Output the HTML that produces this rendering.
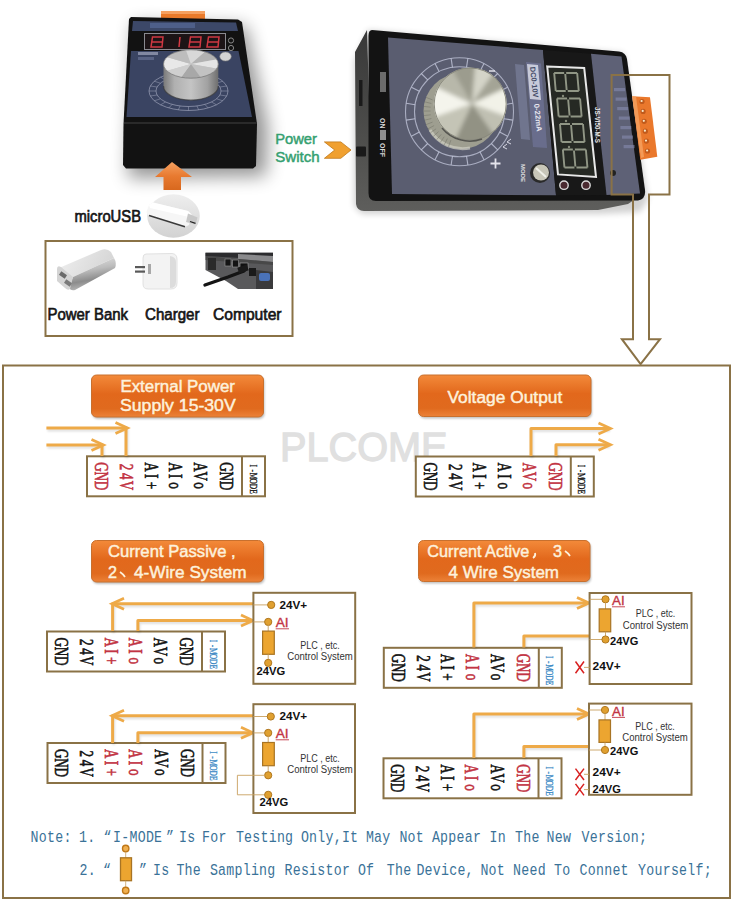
<!DOCTYPE html>
<html><head><meta charset="utf-8"><title>PLCOME signal generator wiring</title>
<style>html,body{margin:0;padding:0;background:#fff;}body{width:732px;height:900px;overflow:hidden;}svg{display:block;}</style>
</head><body>
<svg width="732" height="900" viewBox="0 0 732 900">
<rect width="732" height="900" fill="#fff"/>
<defs>
<linearGradient id="og" x1="0" y1="0" x2="0" y2="1">
 <stop offset="0" stop-color="#f38a3a"/><stop offset="0.45" stop-color="#e2681c"/><stop offset="0.8" stop-color="#e06a1e"/><stop offset="1" stop-color="#ec8238"/>
</linearGradient>
<linearGradient id="arrowg" x1="0" y1="0" x2="0" y2="1">
 <stop offset="0" stop-color="#f5a060"/><stop offset="0.5" stop-color="#e87a30"/><stop offset="1" stop-color="#d8681e"/>
</linearGradient>
<filter id="blur6" x="-50%" y="-50%" width="200%" height="200%"><feGaussianBlur stdDeviation="6"/></filter>
<filter id="blur3" x="-50%" y="-50%" width="200%" height="200%"><feGaussianBlur stdDeviation="3"/></filter>
<filter id="blur2" x="-50%" y="-50%" width="200%" height="200%"><feGaussianBlur stdDeviation="2"/></filter>
<filter id="blur1" x="-50%" y="-50%" width="200%" height="200%"><feGaussianBlur stdDeviation="1"/></filter>
<filter id="blur05" x="-50%" y="-50%" width="200%" height="200%"><feGaussianBlur stdDeviation="0.5"/></filter>
<linearGradient id="knobside" x1="0" y1="0" x2="1" y2="0">
 <stop offset="0" stop-color="#6e6e6e"/><stop offset="0.25" stop-color="#c8c8c8"/><stop offset="0.55" stop-color="#e6e6e6"/><stop offset="0.8" stop-color="#a0a0a0"/><stop offset="1" stop-color="#707070"/>
</linearGradient>
<radialGradient id="knobtop" cx="0.45" cy="0.4" r="0.7">
 <stop offset="0" stop-color="#f0f0f0"/><stop offset="0.6" stop-color="#c8c8c8"/><stop offset="1" stop-color="#9a9a9a"/>
</radialGradient>
<linearGradient id="bigknobtop" x1="0" y1="0" x2="1" y2="1">
 <stop offset="0" stop-color="#9a9a90"/><stop offset="0.3" stop-color="#e8e8e0"/><stop offset="0.5" stop-color="#b8b8b0"/><stop offset="0.7" stop-color="#e0e0d8"/><stop offset="1" stop-color="#8a8a84"/>
</linearGradient>
<linearGradient id="usbg" x1="0" y1="0" x2="0" y2="1">
 <stop offset="0" stop-color="#f2f2f2"/><stop offset="1" stop-color="#d6d6d6"/>
</linearGradient>
<linearGradient id="pbg" x1="0" y1="0" x2="0" y2="1">
 <stop offset="0" stop-color="#f4f4f4"/><stop offset="0.5" stop-color="#c8c8c8"/><stop offset="1" stop-color="#9a9a9a"/>
</linearGradient>
</defs>
<filter id="blur9" x="-50%" y="-50%" width="200%" height="200%"><feGaussianBlur stdDeviation="9"/></filter>
<polygon points="134,24 246,26 268,128 266,176 128,178" fill="#000" opacity="0.42" filter="url(#blur9)"/>
<rect x="161" y="11" width="44" height="9" fill="#ea7a2a"/>
<rect x="161" y="11" width="44" height="3" fill="#f5a060"/>
<polygon points="131,17 238,19.5 242,22 257,124 256,166 253,168.5 126,168.5 123,165 123.5,124 129,19" fill="#121212"/>
<polygon points="124,122 256,122 257,124 124,124" fill="#2a2a2a"/>
<polygon points="133,21 236,22.5 238,31 132,31" fill="#3c4868"/>
<rect x="150" y="23" width="45" height="5" fill="#5a6fa0" opacity="0.6"/>
<rect x="144.5" y="33.5" width="81" height="16" fill="#1c1416" stroke="#8a8a90" stroke-width="1"/>
<path d="M152.5,37 H163 L162,47 H151 Z M152,42 H162.5" stroke="#d83a44" stroke-width="1.5" fill="none" opacity="0.95"/>
<path d="M180,37 L179,47" stroke="#d83a44" stroke-width="1.5" fill="none"/>
<path d="M190.5,37 H201 L200,47 H189 Z M190,42 H200.5" stroke="#d83a44" stroke-width="1.5" fill="none" opacity="0.95"/>
<path d="M208.5,37 H219 L218,47 H207 Z M208,42 H218.5" stroke="#d83a44" stroke-width="1.5" fill="none" opacity="0.95"/>
<circle cx="231" cy="40.5" r="2.6" fill="none" stroke="#888" stroke-width="1"/>
<circle cx="231" cy="48" r="2.6" fill="none" stroke="#888" stroke-width="1"/>
<polygon points="131,51 238.5,51 252,117 126.5,117" fill="#3a4462"/>
<ellipse cx="188.5" cy="91" rx="39.5" ry="19.5" fill="none" stroke="#b8bcd0" stroke-width="0.9" opacity="0.6"/>
<ellipse cx="188.5" cy="91" rx="32.5" ry="15.5" fill="none" stroke="#b8bcd0" stroke-width="0.9" opacity="0.6"/>
<line x1="221.0" y1="91.0" x2="228.0" y2="91.0" stroke="#b8bcd0" stroke-width="0.8" opacity="0.5"/>
<line x1="219.9" y1="95.0" x2="226.7" y2="96.0" stroke="#b8bcd0" stroke-width="0.8" opacity="0.5"/>
<line x1="216.6" y1="98.8" x2="222.7" y2="100.8" stroke="#b8bcd0" stroke-width="0.8" opacity="0.5"/>
<line x1="211.5" y1="102.0" x2="216.4" y2="104.8" stroke="#b8bcd0" stroke-width="0.8" opacity="0.5"/>
<line x1="204.8" y1="104.4" x2="208.2" y2="107.9" stroke="#b8bcd0" stroke-width="0.8" opacity="0.5"/>
<line x1="196.9" y1="106.0" x2="198.7" y2="109.8" stroke="#b8bcd0" stroke-width="0.8" opacity="0.5"/>
<line x1="188.5" y1="106.5" x2="188.5" y2="110.5" stroke="#b8bcd0" stroke-width="0.8" opacity="0.5"/>
<line x1="180.1" y1="106.0" x2="178.3" y2="109.8" stroke="#b8bcd0" stroke-width="0.8" opacity="0.5"/>
<line x1="172.2" y1="104.4" x2="168.8" y2="107.9" stroke="#b8bcd0" stroke-width="0.8" opacity="0.5"/>
<line x1="165.5" y1="102.0" x2="160.6" y2="104.8" stroke="#b8bcd0" stroke-width="0.8" opacity="0.5"/>
<line x1="160.4" y1="98.8" x2="154.3" y2="100.8" stroke="#b8bcd0" stroke-width="0.8" opacity="0.5"/>
<line x1="157.1" y1="95.0" x2="150.3" y2="96.0" stroke="#b8bcd0" stroke-width="0.8" opacity="0.5"/>
<line x1="156.0" y1="91.0" x2="149.0" y2="91.0" stroke="#b8bcd0" stroke-width="0.8" opacity="0.5"/>
<line x1="157.1" y1="87.0" x2="150.3" y2="86.0" stroke="#b8bcd0" stroke-width="0.8" opacity="0.5"/>
<line x1="160.4" y1="83.2" x2="154.3" y2="81.2" stroke="#b8bcd0" stroke-width="0.8" opacity="0.5"/>
<line x1="165.5" y1="80.0" x2="160.6" y2="77.2" stroke="#b8bcd0" stroke-width="0.8" opacity="0.5"/>
<line x1="172.2" y1="77.6" x2="168.7" y2="74.1" stroke="#b8bcd0" stroke-width="0.8" opacity="0.5"/>
<line x1="180.1" y1="76.0" x2="178.3" y2="72.2" stroke="#b8bcd0" stroke-width="0.8" opacity="0.5"/>
<line x1="188.5" y1="75.5" x2="188.5" y2="71.5" stroke="#b8bcd0" stroke-width="0.8" opacity="0.5"/>
<line x1="196.9" y1="76.0" x2="198.7" y2="72.2" stroke="#b8bcd0" stroke-width="0.8" opacity="0.5"/>
<line x1="204.8" y1="77.6" x2="208.2" y2="74.1" stroke="#b8bcd0" stroke-width="0.8" opacity="0.5"/>
<line x1="211.5" y1="80.0" x2="216.4" y2="77.2" stroke="#b8bcd0" stroke-width="0.8" opacity="0.5"/>
<line x1="216.6" y1="83.2" x2="222.7" y2="81.2" stroke="#b8bcd0" stroke-width="0.8" opacity="0.5"/>
<line x1="219.9" y1="87.0" x2="226.7" y2="86.0" stroke="#b8bcd0" stroke-width="0.8" opacity="0.5"/>
<defs><linearGradient id="ks2" x1="0" y1="0" x2="1" y2="0"><stop offset="0" stop-color="#7a7a7a"/><stop offset="0.2" stop-color="#b0b0b0"/><stop offset="0.5" stop-color="#c4c4c4"/><stop offset="0.8" stop-color="#a2a2a2"/><stop offset="1" stop-color="#6e6e6e"/></linearGradient></defs>
<path d="M163.5,64 L163.5,86 A27.4,14.2 0 0 0 218.3,86 L218.3,64 Z" fill="url(#ks2)"/>
<path d="M163.5,86 A27.4,14.2 0 0 0 218.3,86" stroke="#3a3a3a" stroke-width="1.2" fill="none" opacity="0.7"/>
<clipPath id="sk"><ellipse cx="190.9" cy="64" rx="27.4" ry="14.2"/></clipPath>
<g clip-path="url(#sk)"><ellipse cx="190.9" cy="64" rx="27.4" ry="14.2" fill="#c6c6c6"/>
<polygon points="190.9,64 156.3,74.0 156.3,54.0" fill="#e8e8e8"/>
<polygon points="190.9,64 156.3,54.0 184.0,44.3" fill="#bdbdbd"/>
<polygon points="190.9,64 184.0,44.3 210.9,46.7" fill="#d8d8d8"/>
<polygon points="190.9,64 210.9,46.7 228.5,57.2" fill="#b2b2b2"/>
<polygon points="190.9,64 228.5,57.2 228.5,70.8" fill="#e4e4e4"/>
<polygon points="190.9,64 228.5,70.8 204.6,82.8" fill="#c2c2c2"/>
<polygon points="190.9,64 204.6,82.8 177.2,82.8" fill="#a8a8a8"/>
<polygon points="190.9,64 177.2,82.8 156.3,74.0" fill="#cfcfcf"/>
</g>
<ellipse cx="190.9" cy="64" rx="27.4" ry="14.2" fill="none" stroke="#7a7a7a" stroke-width="0.8"/>
<ellipse cx="225.5" cy="56.5" rx="5.8" ry="4.6" fill="#d4d4d4" stroke="#777" stroke-width="0.6"/>
<rect x="138" y="52" width="20" height="3" fill="#c8cce0" opacity="0.5"/>
<rect x="138" y="57" width="16" height="3" fill="#8a94b8" opacity="0.4"/>
<polygon points="172,162 155,177 163.5,177 163.5,190 181,190 181,177 192,177" fill="url(#arrowg)"/>
<defs><linearGradient id="usbg2" x1="0" y1="0" x2="0" y2="1"><stop offset="0" stop-color="#eeeeee"/><stop offset="1" stop-color="#d2d2d2"/></linearGradient></defs>
<ellipse cx="173.5" cy="216" rx="26.3" ry="21.7" fill="url(#usbg2)"/>
<polygon points="149,205 153,202.5 188,211 191.5,214.5 189,225 185,227 149,216.5 146.5,212" fill="#f6f6f6"/>
<polygon points="149,205 153,202.5 188,211 191.5,214.5 189,217 150,208" fill="#ffffff"/>
<path d="M149,215.5 L185,226.8" stroke="#3a3a3a" stroke-width="1.6" fill="none"/>
<polygon points="188,213.5 197.5,217.5 195.5,224.5 186,222" fill="#c8c8c8"/>
<path d="M190,221.5 L195.5,223.3" stroke="#222" stroke-width="1.3"/>
<text x="74.5" y="222.3" font-family="'Liberation Sans', sans-serif" font-size="16" font-weight="normal" fill="#151515" text-anchor="start" textLength="66.5" lengthAdjust="spacingAndGlyphs" stroke="#151515" stroke-width="0.65" >microUSB</text>
<rect x="45.5" y="241" width="247" height="95" fill="none" stroke="#8a7246" stroke-width="2"/>
<defs><linearGradient id="pbside" x1="0" y1="0" x2="0.25" y2="1"><stop offset="0" stop-color="#e8e8e8"/><stop offset="0.45" stop-color="#bcbcbc"/><stop offset="0.75" stop-color="#8c8c8c"/><stop offset="1" stop-color="#b8b8b8"/></linearGradient><linearGradient id="pbtop" x1="0" y1="0" x2="1" y2="0.3"><stop offset="0" stop-color="#f0f0f0"/><stop offset="1" stop-color="#d6d6d6"/></linearGradient></defs>
<path d="M59,268 L101,250 Q107,248 111,252 L114,258 L73,277 Q66,279 62,275 Z" fill="url(#pbtop)"/>
<path d="M73,277 L114,258 Q117,263 115,268 L75,290 Q70,291 69,287 Z" fill="url(#pbside)"/>
<path d="M57,269 Q57,265 61,267 L73,277 L70,289 Q68,291 65,288 L57,281 Z" fill="#d4d4d4"/>
<rect x="59.5" y="273" width="7" height="4" transform="rotate(35 63 275)" fill="#6a6a6a"/>
<rect x="64.5" y="281" width="7" height="4" transform="rotate(35 68 283)" fill="#7a7a7a"/>
<path d="M146,254 L172,253.5 Q177,254 177,259 L177,283 Q177,289 171,289 L148,289 Q143,289 143,284 L143,258 Q143,254 146,254 Z" fill="#f3f3f3" stroke="#dadada" stroke-width="0.8"/>
<path d="M170,256 Q176,257 176,262 L176,282 Q176,288 170,288 Z" fill="#dcdcdc"/>
<rect x="135" y="266" width="10" height="2.2" fill="#5a5a5a"/><rect x="135" y="270.5" width="10" height="2.2" fill="#5a5a5a"/>
<rect x="148" y="264" width="3" height="10" fill="#777" opacity="0.6"/>
<path d="M205.5,252.7 L273,252.7 L273,289 L238,289 L226,281 L205.5,270 Z" fill="#59595b"/>
<path d="M205.5,252.7 L273,252.7 L273,260 L205.5,256 Z" fill="#2c2c2e"/>
<path d="M238,254 L273,256 L273,262 L238,259 Z" fill="#8a8a8c"/>
<path d="M205.5,256 L273,262 L273,265 L205.5,260 Z" fill="#444" opacity="0.8"/>
<rect x="225" y="259" width="6" height="7" fill="#141414" stroke="#999" stroke-width="0.6"/><rect x="232.5" y="260" width="6" height="7" fill="#141414" stroke="#999" stroke-width="0.6"/>
<rect x="208" y="258" width="8" height="12" fill="#2a2a2a"/>
<rect x="240" y="263" width="8" height="6" fill="#111" stroke="#aaa" stroke-width="0.6"/>
<rect x="249" y="268" width="7" height="8" fill="#1a1a1a"/>
<path d="M256,270 L273,272 L273,289 L256,289 Z" fill="#3a3a3c"/>
<rect x="259" y="273" width="11" height="8" rx="2" fill="#4a72b8"/>
<path d="M205,285 L228,277 L244,271" stroke="#141414" stroke-width="3.4" fill="none" stroke-linecap="round"/>
<rect x="238" y="266" width="10" height="6" fill="#1a1a1a" transform="rotate(-18 243 269)"/>
<text x="47.5" y="319.6" font-family="'Liberation Sans', sans-serif" font-size="16" font-weight="normal" fill="#151515" text-anchor="start" textLength="80.5" lengthAdjust="spacingAndGlyphs" stroke="#151515" stroke-width="0.65" >Power Bank</text>
<text x="145" y="319.6" font-family="'Liberation Sans', sans-serif" font-size="16" font-weight="normal" fill="#151515" text-anchor="start" textLength="54.5" lengthAdjust="spacingAndGlyphs" stroke="#151515" stroke-width="0.65" >Charger</text>
<text x="213" y="319.6" font-family="'Liberation Sans', sans-serif" font-size="16" font-weight="normal" fill="#151515" text-anchor="start" textLength="68.5" lengthAdjust="spacingAndGlyphs" stroke="#151515" stroke-width="0.65" >Computer</text>
<text x="275.2" y="143.9" font-family="'Liberation Sans', sans-serif" font-size="14.5" font-weight="normal" fill="#34a070" text-anchor="start" textLength="41.8" lengthAdjust="spacingAndGlyphs" stroke="#34a070" stroke-width="0.45" >Power</text>
<text x="275.2" y="161.7" font-family="'Liberation Sans', sans-serif" font-size="14.5" font-weight="normal" fill="#34a070" text-anchor="start" textLength="44.5" lengthAdjust="spacingAndGlyphs" stroke="#34a070" stroke-width="0.45" >Switch</text>
<polygon points="324.4,141.9 340.8,141.9 351,150 340.8,158.3 324.4,158.3 334.7,150" fill="#f0a030" stroke="#c07818" stroke-width="0.8"/>
<polygon points="368,30 624,53 648,200 640,212 600,214 362,214 354,206 354,61" fill="#000" opacity="0.18" filter="url(#blur3)"/>
<defs><linearGradient id="sideg" x1="0" y1="0" x2="0" y2="1"><stop offset="0" stop-color="#383838"/><stop offset="0.6" stop-color="#4e4e4c"/><stop offset="1" stop-color="#5e5e5c"/></linearGradient></defs>
<path d="M367,30 L355,52 L356,204 Q357,211 364,211 L598,210 L628,204 L640,196 L372,196 Z" fill="url(#sideg)"/>
<path d="M359,80 L362.5,80 L362.5,106 L359,106 Z" fill="#1a1a1a"/>
<path d="M372,30 L619,51.5 Q626,52.5 627,59 L645,190 Q646,199 638,200.5 L376,201 Q368.5,201 368.5,193 L368.5,36 Q368.5,30 372,30 Z" fill="#131313"/>
<polygon points="388,37.5 543,50 556,195.3 392,194" fill="#5a5d70"/>
<polygon points="543,50 591,53.8 606.5,195 556,195.3" fill="#181818"/>
<polygon points="591,53.8 621.5,56.5 640,193.5 606.5,195" fill="#5e6176"/>
<polygon points="547.2,66.4 584.2,68 596,177 558,174.4" fill="#262924" stroke="#e8e8e8" stroke-width="2"/>
<g transform="translate(551.0,71.0) skewX(5)" fill="none" stroke="#9ca290" stroke-width="1.9" opacity="0.9"><path d="M3,2 H13 M15,2 H26 M3,2 V20 M26,2 V20 M3,20 H13 M15,20 H26 M14,3 V19"/></g>
<g transform="translate(553.9,96.5) skewX(5)" fill="none" stroke="#9ca290" stroke-width="1.9" opacity="0.9"><path d="M3,2 H13 M15,2 H26 M3,2 V20 M26,2 V20 M3,20 H13 M15,20 H26 M14,3 V19"/></g>
<g transform="translate(556.8,122.0) skewX(5)" fill="none" stroke="#9ca290" stroke-width="1.9" opacity="0.9"><path d="M3,2 H13 M15,2 H26 M3,2 V20 M26,2 V20 M3,20 H13 M15,20 H26 M14,3 V19"/></g>
<g transform="translate(559.7,147.5) skewX(5)" fill="none" stroke="#9ca290" stroke-width="1.9" opacity="0.9"><path d="M3,2 H13 M15,2 H26 M3,2 V20 M26,2 V20 M3,20 H13 M15,20 H26 M14,3 V19"/></g>
<circle cx="566" cy="121" r="1.2" fill="#858a7a"/><circle cx="569" cy="147" r="1.2" fill="#858a7a"/><circle cx="563" cy="96" r="1.2" fill="#858a7a"/>
<circle cx="564" cy="185.2" r="4.2" fill="#4a2a30" stroke="#dcdcdc" stroke-width="1.4"/>
<circle cx="586" cy="185.2" r="4.2" fill="#4a2a30" stroke="#dcdcdc" stroke-width="1.4"/>
<text x="0" y="0" font-family="'Liberation Sans', sans-serif" font-size="7.5" font-weight="bold" fill="#e8e8e8" text-anchor="start" textLength="36" lengthAdjust="spacingAndGlyphs" transform="translate(594.5,107) rotate(90)">JS-VI50-M-S</text>
<rect x="614.0" y="88.0" width="11" height="3.2" fill="#8a90b4" opacity="0.55"/>
<rect x="615.6" y="97.5" width="11" height="3.2" fill="#8a90b4" opacity="0.55"/>
<rect x="617.2" y="107.0" width="11" height="3.2" fill="#8a90b4" opacity="0.55"/>
<rect x="618.8" y="116.5" width="11" height="3.2" fill="#8a90b4" opacity="0.55"/>
<rect x="620.4" y="126.0" width="11" height="3.2" fill="#8a90b4" opacity="0.55"/>
<rect x="622.0" y="135.5" width="11" height="3.2" fill="#8a90b4" opacity="0.55"/>
<rect x="623.6" y="145.0" width="11" height="3.2" fill="#8a90b4" opacity="0.55"/>
<circle cx="613" cy="173" r="3" fill="#222"/>
<circle cx="459.5" cy="111.7" r="54" fill="none" stroke="#c4c8dc" stroke-width="1.1" opacity="0.75"/>
<circle cx="459.5" cy="111.7" r="45" fill="none" stroke="#c4c8dc" stroke-width="1.1" opacity="0.75"/>
<line x1="503.9" y1="118.7" x2="512.8" y2="120.1" stroke="#c4c8dc" stroke-width="1.1" opacity="0.8"/>
<line x1="499.6" y1="132.1" x2="507.6" y2="136.2" stroke="#c4c8dc" stroke-width="1.1" opacity="0.8"/>
<line x1="491.3" y1="143.5" x2="497.7" y2="149.9" stroke="#c4c8dc" stroke-width="1.1" opacity="0.8"/>
<line x1="479.9" y1="151.8" x2="484.0" y2="159.8" stroke="#c4c8dc" stroke-width="1.1" opacity="0.8"/>
<line x1="466.5" y1="156.1" x2="467.9" y2="165.0" stroke="#c4c8dc" stroke-width="1.1" opacity="0.8"/>
<line x1="452.5" y1="156.1" x2="451.1" y2="165.0" stroke="#c4c8dc" stroke-width="1.1" opacity="0.8"/>
<line x1="439.1" y1="151.8" x2="435.0" y2="159.8" stroke="#c4c8dc" stroke-width="1.1" opacity="0.8"/>
<line x1="427.7" y1="143.5" x2="421.3" y2="149.9" stroke="#c4c8dc" stroke-width="1.1" opacity="0.8"/>
<line x1="419.4" y1="132.1" x2="411.4" y2="136.2" stroke="#c4c8dc" stroke-width="1.1" opacity="0.8"/>
<line x1="415.1" y1="118.7" x2="406.2" y2="120.1" stroke="#c4c8dc" stroke-width="1.1" opacity="0.8"/>
<line x1="415.1" y1="104.7" x2="406.2" y2="103.3" stroke="#c4c8dc" stroke-width="1.1" opacity="0.8"/>
<line x1="419.4" y1="91.3" x2="411.4" y2="87.2" stroke="#c4c8dc" stroke-width="1.1" opacity="0.8"/>
<line x1="427.7" y1="79.9" x2="421.3" y2="73.5" stroke="#c4c8dc" stroke-width="1.1" opacity="0.8"/>
<line x1="439.1" y1="71.6" x2="435.0" y2="63.6" stroke="#c4c8dc" stroke-width="1.1" opacity="0.8"/>
<line x1="452.5" y1="67.3" x2="451.1" y2="58.4" stroke="#c4c8dc" stroke-width="1.1" opacity="0.8"/>
<line x1="466.5" y1="67.3" x2="467.9" y2="58.4" stroke="#c4c8dc" stroke-width="1.1" opacity="0.8"/>
<line x1="479.9" y1="71.6" x2="484.0" y2="63.6" stroke="#c4c8dc" stroke-width="1.1" opacity="0.8"/>
<line x1="491.3" y1="79.9" x2="497.7" y2="73.5" stroke="#c4c8dc" stroke-width="1.1" opacity="0.8"/>
<line x1="499.6" y1="91.3" x2="507.6" y2="87.2" stroke="#c4c8dc" stroke-width="1.1" opacity="0.8"/>
<line x1="503.9" y1="104.7" x2="512.8" y2="103.3" stroke="#c4c8dc" stroke-width="1.1" opacity="0.8"/>
<circle cx="461.5" cy="111" r="38" fill="#9e9e90"/>
<path d="M430,130 A38,38 0 0 0 470,148" stroke="#d0d0c4" stroke-width="3" fill="none" opacity="0.7"/>
<line x1="450.9" y1="140.1" x2="448.5" y2="146.7" stroke="#6e6e64" stroke-width="0.8" opacity="0.6"/>
<line x1="447.4" y1="138.6" x2="444.2" y2="144.9" stroke="#6e6e64" stroke-width="0.8" opacity="0.6"/>
<line x1="444.2" y1="136.7" x2="440.3" y2="142.5" stroke="#6e6e64" stroke-width="0.8" opacity="0.6"/>
<line x1="441.2" y1="134.4" x2="436.6" y2="139.7" stroke="#6e6e64" stroke-width="0.8" opacity="0.6"/>
<line x1="438.5" y1="131.7" x2="433.3" y2="136.4" stroke="#6e6e64" stroke-width="0.8" opacity="0.6"/>
<line x1="436.1" y1="128.8" x2="430.4" y2="132.8" stroke="#6e6e64" stroke-width="0.8" opacity="0.6"/>
<line x1="434.1" y1="125.6" x2="427.9" y2="128.8" stroke="#6e6e64" stroke-width="0.8" opacity="0.6"/>
<line x1="432.6" y1="122.1" x2="426.0" y2="124.6" stroke="#6e6e64" stroke-width="0.8" opacity="0.6"/>
<line x1="431.4" y1="118.5" x2="424.6" y2="120.2" stroke="#6e6e64" stroke-width="0.8" opacity="0.6"/>
<line x1="430.7" y1="114.8" x2="423.8" y2="115.6" stroke="#6e6e64" stroke-width="0.8" opacity="0.6"/>
<line x1="430.5" y1="111.0" x2="423.5" y2="111.0" stroke="#6e6e64" stroke-width="0.8" opacity="0.6"/>
<line x1="430.7" y1="107.2" x2="423.8" y2="106.4" stroke="#6e6e64" stroke-width="0.8" opacity="0.6"/>
<line x1="431.4" y1="103.5" x2="424.6" y2="101.8" stroke="#6e6e64" stroke-width="0.8" opacity="0.6"/>
<line x1="432.6" y1="99.9" x2="426.0" y2="97.4" stroke="#6e6e64" stroke-width="0.8" opacity="0.6"/>
<clipPath id="kclip"><circle cx="470.2" cy="104" r="36.5"/></clipPath>
<g clip-path="url(#kclip)"><g filter="url(#blur2)">
<circle cx="470.2" cy="104" r="40" fill="#bcbcae"/>
<polygon points="471.9,103.7 415.5,124.2 417.5,78.3" fill="#f4f4ec"/>
<polygon points="471.9,103.7 417.5,78.3 441.9,51.7" fill="#b8b8aa"/>
<polygon points="471.9,103.7 441.9,51.7 477.1,43.9" fill="#9c9c8e"/>
<polygon points="471.9,103.7 477.1,43.9 506.3,54.6" fill="#d4d4c8"/>
<polygon points="471.9,103.7 506.3,54.6 526.3,78.3" fill="#a4a496"/>
<polygon points="471.9,103.7 526.3,78.3 528.3,124.2" fill="#f2f2e8"/>
<polygon points="471.9,103.7 528.3,124.2 506.3,152.8" fill="#c0c0b2"/>
<polygon points="471.9,103.7 506.3,152.8 446.5,158.1" fill="#929284"/>
<polygon points="471.9,103.7 446.5,158.1 415.5,124.2" fill="#c4c4b6"/>
</g></g>
<g filter="url(#blur1)" opacity="0.001"></g>
<circle cx="470.2" cy="104" r="36" fill="none" stroke="#8a8a7e" stroke-width="1"/>
<path d="M442,128 A36,36 0 0 0 482,139" stroke="#555550" stroke-width="1.5" fill="none"/>
<path d="M490.5,163.5 h10 M495.5,158.5 v10" stroke="#e4e4ec" stroke-width="1.8"/>
<path d="M489,71 h6" stroke="#e0e0e8" stroke-width="1.5"/>
<path d="M511,139 l-4,3 l4,2 M507,144 l-4,3 l4,2" stroke="#d8d8e4" stroke-width="1" fill="none"/>
<circle cx="540" cy="173" r="10" fill="#2a2a2a"/>
<circle cx="541" cy="172.5" r="8" fill="#c8c6b8"/>
<path d="M536,168 L546,177" stroke="#f0f0e8" stroke-width="2"/>
<text x="0" y="0" font-family="'Liberation Sans', sans-serif" font-size="6" font-weight="bold" fill="#e0e0e0" text-anchor="start" transform="translate(521,164) rotate(90)">MODE</text>
<polygon points="526,62 541,63.5 547,148 533,147" fill="#6d7294" opacity="0.8"/>
<polygon points="527,64 538,65 541,100 530,99" fill="#d8dae6" opacity="0.85"/>
<text x="0" y="0" font-family="'Liberation Sans', sans-serif" font-size="7.5" font-weight="bold" fill="#444a66" text-anchor="start" textLength="31" lengthAdjust="spacingAndGlyphs" transform="translate(530,67) rotate(84)">DC0-10V</text>
<text x="0" y="0" font-family="'Liberation Sans', sans-serif" font-size="7.5" font-weight="bold" fill="#e8e8f0" text-anchor="start" textLength="28" lengthAdjust="spacingAndGlyphs" transform="translate(534,104) rotate(84)">0-22mA</text>
<polygon points="515,64 524,65 530,140 521,139" fill="#8c92b4" opacity="0.45"/>
<text x="0" y="0" font-family="'Liberation Sans', sans-serif" font-size="7" font-weight="bold" fill="#d8d8d8" text-anchor="start" transform="translate(380,118) rotate(90)">ON</text>
<text x="0" y="0" font-family="'Liberation Sans', sans-serif" font-size="7" font-weight="bold" fill="#d8d8d8" text-anchor="start" transform="translate(380,143) rotate(90)">OFF</text>
<rect x="380" y="130" width="6" height="10" fill="#b8b8b8" opacity="0.75"/>
<rect x="380" y="72" width="6" height="20" fill="#a8a8a8" opacity="0.6"/>
<rect x="356" y="146.5" width="10" height="10" rx="1" fill="#1a1a1a"/>
<polygon points="632.3,96.3 650,97.3 657.3,156.8 640.3,159.7" fill="#ea782c"/>
<polygon points="632,96 636,96.3 644,157 641,158" fill="#f8a868" opacity="0.7"/>
<circle cx="642.0" cy="101.5" r="2.6" fill="#c05a1c"/>
<circle cx="641.6" cy="101.0" r="1.1" fill="#f8e8c8"/>
<circle cx="643.1" cy="111.4" r="2.6" fill="#c05a1c"/>
<circle cx="642.7" cy="110.9" r="1.1" fill="#f8e8c8"/>
<circle cx="644.2" cy="121.3" r="2.6" fill="#c05a1c"/>
<circle cx="643.8" cy="120.8" r="1.1" fill="#f8e8c8"/>
<circle cx="645.3" cy="131.2" r="2.6" fill="#c05a1c"/>
<circle cx="644.9" cy="130.7" r="1.1" fill="#f8e8c8"/>
<circle cx="646.4" cy="141.1" r="2.6" fill="#c05a1c"/>
<circle cx="646.0" cy="140.6" r="1.1" fill="#f8e8c8"/>
<circle cx="647.5" cy="151.0" r="2.6" fill="#c05a1c"/>
<circle cx="647.1" cy="150.5" r="1.1" fill="#f8e8c8"/>
<path d="M611.6,75 H669.5 V194.6 H649 V339.2 H660 L640.6,364 L621.9,339.2 H633 V194.6 H611.6 Z" fill="none" stroke="#8a7246" stroke-width="2"/>
<rect x="3" y="365.5" width="727" height="532.5" fill="none" stroke="#8a7246" stroke-width="2"/>
<text x="280" y="461.3" font-family="'Liberation Sans', sans-serif" font-size="41.5" font-weight="normal" fill="#e0e0e0" text-anchor="start" textLength="167.5" lengthAdjust="spacingAndGlyphs" stroke="#e0e0e0" stroke-width="1.3" >PLCOME</text>
<rect x="92.5" y="377" width="172.0" height="42" rx="5" fill="#000" opacity="0.25" filter="url(#blur1)"/>
<rect x="91.5" y="375" width="172.0" height="42" rx="5" fill="url(#og)" stroke="#c8702e" stroke-width="1"/>
<text x="120.4" y="391.8" font-family="'Liberation Sans', sans-serif" font-size="16" font-weight="normal" fill="#fdf1dc" text-anchor="start" textLength="114.6" lengthAdjust="spacingAndGlyphs" stroke="#fdf1dc" stroke-width="0.45" >External Power</text>
<text x="120" y="411" font-family="'Liberation Sans', sans-serif" font-size="16" font-weight="normal" fill="#fdf1dc" text-anchor="start" textLength="115.7" lengthAdjust="spacingAndGlyphs" stroke="#fdf1dc" stroke-width="0.45" >Supply 15-30V</text>
<rect x="419.5" y="377" width="172.5" height="41.5" rx="5" fill="#000" opacity="0.25" filter="url(#blur1)"/>
<rect x="418.5" y="375" width="172.5" height="41.5" rx="5" fill="url(#og)" stroke="#c8702e" stroke-width="1"/>
<text x="447.5" y="402.6" font-family="'Liberation Sans', sans-serif" font-size="16" font-weight="normal" fill="#fdf1dc" text-anchor="start" textLength="114.8" lengthAdjust="spacingAndGlyphs" stroke="#fdf1dc" stroke-width="0.45" >Voltage Output</text>
<rect x="92.5" y="542.5" width="172.0" height="41.5" rx="5" fill="#000" opacity="0.25" filter="url(#blur1)"/>
<rect x="91.5" y="540.5" width="172.0" height="41.5" rx="5" fill="url(#og)" stroke="#c8702e" stroke-width="1"/>
<text x="108" y="556.9" font-family="'Liberation Sans', sans-serif" font-size="16" font-weight="normal" fill="#fdf1dc" text-anchor="start" textLength="127.7" lengthAdjust="spacingAndGlyphs" stroke="#fdf1dc" stroke-width="0.45" >Current Passive ,</text>
<text x="108" y="578" font-family="'Liberation Sans', sans-serif" font-size="16" font-weight="normal" fill="#fdf1dc" text-anchor="start" textLength="9" lengthAdjust="spacingAndGlyphs" stroke="#fdf1dc" stroke-width="0.45" >2</text>
<text x="134" y="578" font-family="'Liberation Sans', sans-serif" font-size="16" font-weight="normal" fill="#fdf1dc" text-anchor="start" textLength="112.7" lengthAdjust="spacingAndGlyphs" stroke="#fdf1dc" stroke-width="0.45" >4-Wire System</text>
<rect x="419.5" y="542.5" width="171.5" height="41.0" rx="5" fill="#000" opacity="0.25" filter="url(#blur1)"/>
<rect x="418.5" y="540.5" width="171.5" height="41.0" rx="5" fill="url(#og)" stroke="#c8702e" stroke-width="1"/>
<text x="427.3" y="556.5" font-family="'Liberation Sans', sans-serif" font-size="16" font-weight="normal" fill="#fdf1dc" text-anchor="start" textLength="102" lengthAdjust="spacingAndGlyphs" stroke="#fdf1dc" stroke-width="0.45" >Current Active</text>
<text x="540" y="556.5" font-family="'Liberation Sans', sans-serif" font-size="16" font-weight="normal" fill="#fdf1dc" text-anchor="start" stroke="#fdf1dc" stroke-width="0.45" ></text>
<text x="553" y="556.5" font-family="'Liberation Sans', sans-serif" font-size="16" font-weight="normal" fill="#fdf1dc" text-anchor="start" textLength="9" lengthAdjust="spacingAndGlyphs" stroke="#fdf1dc" stroke-width="0.45" >3</text>
<text x="448.6" y="578" font-family="'Liberation Sans', sans-serif" font-size="16" font-weight="normal" fill="#fdf1dc" text-anchor="start" textLength="110.4" lengthAdjust="spacingAndGlyphs" stroke="#fdf1dc" stroke-width="0.45" >4 Wire System</text>
<path d="M120,572 q3,2 5,5" stroke="#fdf1dc" stroke-width="1.8" fill="none"/>
<path d="M535,553 q1,3 -2,5" stroke="#fdf1dc" stroke-width="1.8" fill="none"/>
<path d="M565,551 q3,2 5,5" stroke="#fdf1dc" stroke-width="1.8" fill="none"/>
<rect x="87" y="456.3" width="178" height="40" fill="#fff" stroke="#8a7246" stroke-width="2"/>
<line x1="242" y1="456.3" x2="242" y2="496.3" stroke="#8a7246" stroke-width="2"/>
<text transform="translate(94.90,456.30) rotate(90) scale(0.74,1)" y="0" font-family="'Liberation Serif', serif" font-size="17.8" font-weight="normal" fill="#c23444" stroke="#c23444" stroke-width="0.6" text-anchor="middle"><tspan x="14.59">G</tspan><tspan x="27.03">N</tspan><tspan x="39.46">D</tspan></text>
<text transform="translate(119.90,456.30) rotate(90) scale(0.74,1)" y="0" font-family="'Liberation Serif', serif" font-size="17.8" font-weight="normal" fill="#c23444" stroke="#c23444" stroke-width="0.6" text-anchor="middle"><tspan x="14.59">2</tspan><tspan x="27.03">4</tspan><tspan x="39.46">V</tspan></text>
<text transform="translate(144.60,456.30) rotate(90) scale(0.74,1)" y="0" font-family="'Liberation Serif', serif" font-size="17.8" font-weight="normal" fill="#151515" stroke="#151515" stroke-width="0.6" text-anchor="middle"><tspan x="14.59">A</tspan><tspan x="27.03">I</tspan><tspan x="39.46">+</tspan></text>
<text transform="translate(168.70,456.30) rotate(90) scale(0.74,1)" y="0" font-family="'Liberation Serif', serif" font-size="17.8" font-weight="normal" fill="#151515" stroke="#151515" stroke-width="0.6" text-anchor="middle"><tspan x="14.59">A</tspan><tspan x="27.03">I</tspan><tspan x="39.46">o</tspan></text>
<text transform="translate(194.30,456.30) rotate(90) scale(0.74,1)" y="0" font-family="'Liberation Serif', serif" font-size="17.8" font-weight="normal" fill="#151515" stroke="#151515" stroke-width="0.6" text-anchor="middle"><tspan x="14.59">A</tspan><tspan x="27.03">V</tspan><tspan x="39.46">o</tspan></text>
<text transform="translate(220.10,456.30) rotate(90) scale(0.74,1)" y="0" font-family="'Liberation Serif', serif" font-size="17.8" font-weight="normal" fill="#151515" stroke="#151515" stroke-width="0.6" text-anchor="middle"><tspan x="14.59">G</tspan><tspan x="27.03">N</tspan><tspan x="39.46">D</tspan></text>
<text transform="translate(249.60,456.30) rotate(90) scale(0.74,1)" y="0" font-family="'Liberation Serif', serif" font-size="10" font-weight="normal" fill="#111" stroke="#111" stroke-width="0.3" text-anchor="middle"><tspan x="12.84">I</tspan><tspan x="19.59">-</tspan><tspan x="26.76">M</tspan><tspan x="33.78">O</tspan><tspan x="40.81">D</tspan><tspan x="47.57">E</tspan></text>
<rect x="415.8" y="456.5" width="178" height="40" fill="#fff" stroke="#8a7246" stroke-width="2"/>
<line x1="570.8" y1="456.5" x2="570.8" y2="496.5" stroke="#8a7246" stroke-width="2"/>
<text transform="translate(423.70,456.50) rotate(90) scale(0.74,1)" y="0" font-family="'Liberation Serif', serif" font-size="17.8" font-weight="normal" fill="#151515" stroke="#151515" stroke-width="0.6" text-anchor="middle"><tspan x="14.59">G</tspan><tspan x="27.03">N</tspan><tspan x="39.46">D</tspan></text>
<text transform="translate(448.70,456.50) rotate(90) scale(0.74,1)" y="0" font-family="'Liberation Serif', serif" font-size="17.8" font-weight="normal" fill="#151515" stroke="#151515" stroke-width="0.6" text-anchor="middle"><tspan x="14.59">2</tspan><tspan x="27.03">4</tspan><tspan x="39.46">V</tspan></text>
<text transform="translate(473.40,456.50) rotate(90) scale(0.74,1)" y="0" font-family="'Liberation Serif', serif" font-size="17.8" font-weight="normal" fill="#151515" stroke="#151515" stroke-width="0.6" text-anchor="middle"><tspan x="14.59">A</tspan><tspan x="27.03">I</tspan><tspan x="39.46">+</tspan></text>
<text transform="translate(497.50,456.50) rotate(90) scale(0.74,1)" y="0" font-family="'Liberation Serif', serif" font-size="17.8" font-weight="normal" fill="#151515" stroke="#151515" stroke-width="0.6" text-anchor="middle"><tspan x="14.59">A</tspan><tspan x="27.03">I</tspan><tspan x="39.46">o</tspan></text>
<text transform="translate(523.10,456.50) rotate(90) scale(0.74,1)" y="0" font-family="'Liberation Serif', serif" font-size="17.8" font-weight="normal" fill="#c23444" stroke="#c23444" stroke-width="0.6" text-anchor="middle"><tspan x="14.59">A</tspan><tspan x="27.03">V</tspan><tspan x="39.46">o</tspan></text>
<text transform="translate(548.90,456.50) rotate(90) scale(0.74,1)" y="0" font-family="'Liberation Serif', serif" font-size="17.8" font-weight="normal" fill="#c23444" stroke="#c23444" stroke-width="0.6" text-anchor="middle"><tspan x="14.59">G</tspan><tspan x="27.03">N</tspan><tspan x="39.46">D</tspan></text>
<text transform="translate(578.40,456.50) rotate(90) scale(0.74,1)" y="0" font-family="'Liberation Serif', serif" font-size="10" font-weight="normal" fill="#111" stroke="#111" stroke-width="0.3" text-anchor="middle"><tspan x="12.84">I</tspan><tspan x="19.59">-</tspan><tspan x="26.76">M</tspan><tspan x="33.78">O</tspan><tspan x="40.81">D</tspan><tspan x="47.57">E</tspan></text>
<rect x="47" y="631.5" width="178" height="40" fill="#fff" stroke="#8a7246" stroke-width="2"/>
<line x1="202" y1="631.5" x2="202" y2="671.5" stroke="#8a7246" stroke-width="2"/>
<text transform="translate(54.90,631.50) rotate(90) scale(0.74,1)" y="0" font-family="'Liberation Serif', serif" font-size="17.8" font-weight="normal" fill="#151515" stroke="#151515" stroke-width="0.6" text-anchor="middle"><tspan x="14.59">G</tspan><tspan x="27.03">N</tspan><tspan x="39.46">D</tspan></text>
<text transform="translate(79.90,631.50) rotate(90) scale(0.74,1)" y="0" font-family="'Liberation Serif', serif" font-size="17.8" font-weight="normal" fill="#151515" stroke="#151515" stroke-width="0.6" text-anchor="middle"><tspan x="14.59">2</tspan><tspan x="27.03">4</tspan><tspan x="39.46">V</tspan></text>
<text transform="translate(104.60,631.50) rotate(90) scale(0.74,1)" y="0" font-family="'Liberation Serif', serif" font-size="17.8" font-weight="normal" fill="#c23444" stroke="#c23444" stroke-width="0.6" text-anchor="middle"><tspan x="14.59">A</tspan><tspan x="27.03">I</tspan><tspan x="39.46">+</tspan></text>
<text transform="translate(128.70,631.50) rotate(90) scale(0.74,1)" y="0" font-family="'Liberation Serif', serif" font-size="17.8" font-weight="normal" fill="#c23444" stroke="#c23444" stroke-width="0.6" text-anchor="middle"><tspan x="14.59">A</tspan><tspan x="27.03">I</tspan><tspan x="39.46">o</tspan></text>
<text transform="translate(154.30,631.50) rotate(90) scale(0.74,1)" y="0" font-family="'Liberation Serif', serif" font-size="17.8" font-weight="normal" fill="#151515" stroke="#151515" stroke-width="0.6" text-anchor="middle"><tspan x="14.59">A</tspan><tspan x="27.03">V</tspan><tspan x="39.46">o</tspan></text>
<text transform="translate(180.10,631.50) rotate(90) scale(0.74,1)" y="0" font-family="'Liberation Serif', serif" font-size="17.8" font-weight="normal" fill="#151515" stroke="#151515" stroke-width="0.6" text-anchor="middle"><tspan x="14.59">G</tspan><tspan x="27.03">N</tspan><tspan x="39.46">D</tspan></text>
<text transform="translate(209.60,631.50) rotate(90) scale(0.74,1)" y="0" font-family="'Liberation Serif', serif" font-size="10" font-weight="normal" fill="#3a88c4" stroke="#3a88c4" stroke-width="0.3" text-anchor="middle"><tspan x="12.84">I</tspan><tspan x="19.59">-</tspan><tspan x="26.76">M</tspan><tspan x="33.78">O</tspan><tspan x="40.81">D</tspan><tspan x="47.57">E</tspan></text>
<rect x="47.5" y="743" width="178" height="40" fill="#fff" stroke="#8a7246" stroke-width="2"/>
<line x1="202.5" y1="743" x2="202.5" y2="783" stroke="#8a7246" stroke-width="2"/>
<text transform="translate(55.40,743.00) rotate(90) scale(0.74,1)" y="0" font-family="'Liberation Serif', serif" font-size="17.8" font-weight="normal" fill="#151515" stroke="#151515" stroke-width="0.6" text-anchor="middle"><tspan x="14.59">G</tspan><tspan x="27.03">N</tspan><tspan x="39.46">D</tspan></text>
<text transform="translate(80.40,743.00) rotate(90) scale(0.74,1)" y="0" font-family="'Liberation Serif', serif" font-size="17.8" font-weight="normal" fill="#151515" stroke="#151515" stroke-width="0.6" text-anchor="middle"><tspan x="14.59">2</tspan><tspan x="27.03">4</tspan><tspan x="39.46">V</tspan></text>
<text transform="translate(105.10,743.00) rotate(90) scale(0.74,1)" y="0" font-family="'Liberation Serif', serif" font-size="17.8" font-weight="normal" fill="#c23444" stroke="#c23444" stroke-width="0.6" text-anchor="middle"><tspan x="14.59">A</tspan><tspan x="27.03">I</tspan><tspan x="39.46">+</tspan></text>
<text transform="translate(129.20,743.00) rotate(90) scale(0.74,1)" y="0" font-family="'Liberation Serif', serif" font-size="17.8" font-weight="normal" fill="#c23444" stroke="#c23444" stroke-width="0.6" text-anchor="middle"><tspan x="14.59">A</tspan><tspan x="27.03">I</tspan><tspan x="39.46">o</tspan></text>
<text transform="translate(154.80,743.00) rotate(90) scale(0.74,1)" y="0" font-family="'Liberation Serif', serif" font-size="17.8" font-weight="normal" fill="#151515" stroke="#151515" stroke-width="0.6" text-anchor="middle"><tspan x="14.59">A</tspan><tspan x="27.03">V</tspan><tspan x="39.46">o</tspan></text>
<text transform="translate(180.60,743.00) rotate(90) scale(0.74,1)" y="0" font-family="'Liberation Serif', serif" font-size="17.8" font-weight="normal" fill="#151515" stroke="#151515" stroke-width="0.6" text-anchor="middle"><tspan x="14.59">G</tspan><tspan x="27.03">N</tspan><tspan x="39.46">D</tspan></text>
<text transform="translate(210.10,743.00) rotate(90) scale(0.74,1)" y="0" font-family="'Liberation Serif', serif" font-size="10" font-weight="normal" fill="#3a88c4" stroke="#3a88c4" stroke-width="0.3" text-anchor="middle"><tspan x="12.84">I</tspan><tspan x="19.59">-</tspan><tspan x="26.76">M</tspan><tspan x="33.78">O</tspan><tspan x="40.81">D</tspan><tspan x="47.57">E</tspan></text>
<rect x="383.8" y="647.8" width="178" height="40" fill="#fff" stroke="#8a7246" stroke-width="2"/>
<line x1="538.8" y1="647.8" x2="538.8" y2="687.8" stroke="#8a7246" stroke-width="2"/>
<text transform="translate(391.70,647.80) rotate(90) scale(0.74,1)" y="0" font-family="'Liberation Serif', serif" font-size="17.8" font-weight="normal" fill="#151515" stroke="#151515" stroke-width="0.6" text-anchor="middle"><tspan x="14.59">G</tspan><tspan x="27.03">N</tspan><tspan x="39.46">D</tspan></text>
<text transform="translate(416.70,647.80) rotate(90) scale(0.74,1)" y="0" font-family="'Liberation Serif', serif" font-size="17.8" font-weight="normal" fill="#151515" stroke="#151515" stroke-width="0.6" text-anchor="middle"><tspan x="14.59">2</tspan><tspan x="27.03">4</tspan><tspan x="39.46">V</tspan></text>
<text transform="translate(441.40,647.80) rotate(90) scale(0.74,1)" y="0" font-family="'Liberation Serif', serif" font-size="17.8" font-weight="normal" fill="#151515" stroke="#151515" stroke-width="0.6" text-anchor="middle"><tspan x="14.59">A</tspan><tspan x="27.03">I</tspan><tspan x="39.46">+</tspan></text>
<text transform="translate(465.50,647.80) rotate(90) scale(0.74,1)" y="0" font-family="'Liberation Serif', serif" font-size="17.8" font-weight="normal" fill="#c23444" stroke="#c23444" stroke-width="0.6" text-anchor="middle"><tspan x="14.59">A</tspan><tspan x="27.03">I</tspan><tspan x="39.46">o</tspan></text>
<text transform="translate(491.10,647.80) rotate(90) scale(0.74,1)" y="0" font-family="'Liberation Serif', serif" font-size="17.8" font-weight="normal" fill="#151515" stroke="#151515" stroke-width="0.6" text-anchor="middle"><tspan x="14.59">A</tspan><tspan x="27.03">V</tspan><tspan x="39.46">o</tspan></text>
<text transform="translate(516.90,647.80) rotate(90) scale(0.74,1)" y="0" font-family="'Liberation Serif', serif" font-size="17.8" font-weight="normal" fill="#c23444" stroke="#c23444" stroke-width="0.6" text-anchor="middle"><tspan x="14.59">G</tspan><tspan x="27.03">N</tspan><tspan x="39.46">D</tspan></text>
<text transform="translate(546.40,647.80) rotate(90) scale(0.74,1)" y="0" font-family="'Liberation Serif', serif" font-size="10" font-weight="normal" fill="#3a88c4" stroke="#3a88c4" stroke-width="0.3" text-anchor="middle"><tspan x="12.84">I</tspan><tspan x="19.59">-</tspan><tspan x="26.76">M</tspan><tspan x="33.78">O</tspan><tspan x="40.81">D</tspan><tspan x="47.57">E</tspan></text>
<rect x="383.5" y="758.3" width="178" height="40" fill="#fff" stroke="#8a7246" stroke-width="2"/>
<line x1="538.5" y1="758.3" x2="538.5" y2="798.3" stroke="#8a7246" stroke-width="2"/>
<text transform="translate(391.40,758.30) rotate(90) scale(0.74,1)" y="0" font-family="'Liberation Serif', serif" font-size="17.8" font-weight="normal" fill="#151515" stroke="#151515" stroke-width="0.6" text-anchor="middle"><tspan x="14.59">G</tspan><tspan x="27.03">N</tspan><tspan x="39.46">D</tspan></text>
<text transform="translate(416.40,758.30) rotate(90) scale(0.74,1)" y="0" font-family="'Liberation Serif', serif" font-size="17.8" font-weight="normal" fill="#151515" stroke="#151515" stroke-width="0.6" text-anchor="middle"><tspan x="14.59">2</tspan><tspan x="27.03">4</tspan><tspan x="39.46">V</tspan></text>
<text transform="translate(441.10,758.30) rotate(90) scale(0.74,1)" y="0" font-family="'Liberation Serif', serif" font-size="17.8" font-weight="normal" fill="#151515" stroke="#151515" stroke-width="0.6" text-anchor="middle"><tspan x="14.59">A</tspan><tspan x="27.03">I</tspan><tspan x="39.46">+</tspan></text>
<text transform="translate(465.20,758.30) rotate(90) scale(0.74,1)" y="0" font-family="'Liberation Serif', serif" font-size="17.8" font-weight="normal" fill="#c23444" stroke="#c23444" stroke-width="0.6" text-anchor="middle"><tspan x="14.59">A</tspan><tspan x="27.03">I</tspan><tspan x="39.46">o</tspan></text>
<text transform="translate(490.80,758.30) rotate(90) scale(0.74,1)" y="0" font-family="'Liberation Serif', serif" font-size="17.8" font-weight="normal" fill="#151515" stroke="#151515" stroke-width="0.6" text-anchor="middle"><tspan x="14.59">A</tspan><tspan x="27.03">V</tspan><tspan x="39.46">o</tspan></text>
<text transform="translate(516.60,758.30) rotate(90) scale(0.74,1)" y="0" font-family="'Liberation Serif', serif" font-size="17.8" font-weight="normal" fill="#c23444" stroke="#c23444" stroke-width="0.6" text-anchor="middle"><tspan x="14.59">G</tspan><tspan x="27.03">N</tspan><tspan x="39.46">D</tspan></text>
<text transform="translate(546.10,758.30) rotate(90) scale(0.74,1)" y="0" font-family="'Liberation Serif', serif" font-size="10" font-weight="normal" fill="#3a88c4" stroke="#3a88c4" stroke-width="0.3" text-anchor="middle"><tspan x="12.84">I</tspan><tspan x="19.59">-</tspan><tspan x="26.76">M</tspan><tspan x="33.78">O</tspan><tspan x="40.81">D</tspan><tspan x="47.57">E</tspan></text>
<path d="M46.4,428 H126 V456" fill="none" stroke="#000" stroke-width="3" opacity="0.12" transform="translate(1,2)" filter="url(#blur1)"/>
<path d="M46.4,428 H126 V456" fill="none" stroke="#eeaa48" stroke-width="3" stroke-linejoin="round"/>
<path d="M115.5,422.5 L127.5,428 L115.5,433.5" fill="none" stroke="#eeaa48" stroke-width="2.8" stroke-linejoin="miter"/>
<path d="M46.4,445 H102 V456" fill="none" stroke="#000" stroke-width="3" opacity="0.12" transform="translate(1,2)" filter="url(#blur1)"/>
<path d="M46.4,445 H102 V456" fill="none" stroke="#eeaa48" stroke-width="3" stroke-linejoin="round"/>
<path d="M91.5,439.5 L103.5,445 L91.5,450.5" fill="none" stroke="#eeaa48" stroke-width="2.8" stroke-linejoin="miter"/>
<path d="M531,456 V428.5 H609" fill="none" stroke="#000" stroke-width="3" opacity="0.12" transform="translate(1,2)" filter="url(#blur1)"/>
<path d="M531,456 V428.5 H609" fill="none" stroke="#eeaa48" stroke-width="3" stroke-linejoin="round"/>
<path d="M598.5,423.0 L610.5,428.5 L598.5,434.0" fill="none" stroke="#eeaa48" stroke-width="2.8" stroke-linejoin="miter"/>
<path d="M556,456 V444.8 H609" fill="none" stroke="#000" stroke-width="3" opacity="0.12" transform="translate(1,2)" filter="url(#blur1)"/>
<path d="M556,456 V444.8 H609" fill="none" stroke="#eeaa48" stroke-width="3" stroke-linejoin="round"/>
<path d="M598.5,439.3 L610.5,444.8 L598.5,450.3" fill="none" stroke="#eeaa48" stroke-width="2.8" stroke-linejoin="miter"/>
<path d="M253.4,603.7 H112.6 V631" fill="none" stroke="#000" stroke-width="3" opacity="0.12" transform="translate(1,2)" filter="url(#blur1)"/>
<path d="M253.4,603.7 H112.6 V631" fill="none" stroke="#eeaa48" stroke-width="3" stroke-linejoin="round"/>
<path d="M124,598.2 L112,603.7 L124,609.2" fill="none" stroke="#eeaa48" stroke-width="2.8" stroke-linejoin="miter"/>
<path d="M137.9,631 V620.6 H251" fill="none" stroke="#000" stroke-width="3" opacity="0.12" transform="translate(1,2)" filter="url(#blur1)"/>
<path d="M137.9,631 V620.6 H251" fill="none" stroke="#eeaa48" stroke-width="3" stroke-linejoin="round"/>
<path d="M241,615.1 L253,620.6 L241,626.1" fill="none" stroke="#eeaa48" stroke-width="2.8" stroke-linejoin="miter"/>
<path d="M253.4,715.8 H112.6 V743" fill="none" stroke="#000" stroke-width="3" opacity="0.12" transform="translate(1,2)" filter="url(#blur1)"/>
<path d="M253.4,715.8 H112.6 V743" fill="none" stroke="#eeaa48" stroke-width="3" stroke-linejoin="round"/>
<path d="M124,710.3 L112,715.8 L124,721.3" fill="none" stroke="#eeaa48" stroke-width="2.8" stroke-linejoin="miter"/>
<path d="M137.9,743 V732.8 H251" fill="none" stroke="#000" stroke-width="3" opacity="0.12" transform="translate(1,2)" filter="url(#blur1)"/>
<path d="M137.9,743 V732.8 H251" fill="none" stroke="#eeaa48" stroke-width="3" stroke-linejoin="round"/>
<path d="M241,727.3 L253,732.8 L241,738.3" fill="none" stroke="#eeaa48" stroke-width="2.8" stroke-linejoin="miter"/>
<path d="M473.9,647.5 V603.1 H587" fill="none" stroke="#000" stroke-width="3" opacity="0.12" transform="translate(1,2)" filter="url(#blur1)"/>
<path d="M473.9,647.5 V603.1 H587" fill="none" stroke="#eeaa48" stroke-width="3" stroke-linejoin="round"/>
<path d="M577,597.6 L589,603.1 L577,608.6" fill="none" stroke="#eeaa48" stroke-width="2.8" stroke-linejoin="miter"/>
<path d="M523.9,647.5 V636 H589.6" fill="none" stroke="#000" stroke-width="3" opacity="0.12" transform="translate(1,2)" filter="url(#blur1)"/>
<path d="M523.9,647.5 V636 H589.6" fill="none" stroke="#eeaa48" stroke-width="3" stroke-linejoin="round"/>
<path d="M473.9,758 V714 H587" fill="none" stroke="#000" stroke-width="3" opacity="0.12" transform="translate(1,2)" filter="url(#blur1)"/>
<path d="M473.9,758 V714 H587" fill="none" stroke="#eeaa48" stroke-width="3" stroke-linejoin="round"/>
<path d="M577,708.5 L589,714 L577,719.5" fill="none" stroke="#eeaa48" stroke-width="2.8" stroke-linejoin="miter"/>
<path d="M523.9,758 V746.5 H589" fill="none" stroke="#000" stroke-width="3" opacity="0.12" transform="translate(1,2)" filter="url(#blur1)"/>
<path d="M523.9,758 V746.5 H589" fill="none" stroke="#eeaa48" stroke-width="3" stroke-linejoin="round"/>
<rect x="253.4" y="592.8" width="101.8" height="91" fill="#fff" stroke="#8a7246" stroke-width="2"/>
<path d="M253.4,604.9 H268" fill="none" stroke="#c8a060" stroke-width="0.9"/>
<circle cx="271.2" cy="604.9" r="3.6" fill="#e0a030" stroke="#b07820" stroke-width="1"/>
<text x="279.4" y="608.6" font-family="'Liberation Sans', sans-serif" font-size="11" font-weight="bold" fill="#111" text-anchor="start" textLength="27.6" lengthAdjust="spacingAndGlyphs" >24V+</text>
<path d="M253.4,621.9 H265" fill="none" stroke="#c8a060" stroke-width="0.9"/>
<circle cx="268.2" cy="621.9" r="3.6" fill="#e0a030" stroke="#b07820" stroke-width="1"/>
<text x="275.7" y="627" font-family="'Liberation Sans', sans-serif" font-size="13" font-weight="normal" fill="#c23444" text-anchor="start" textLength="12.9" lengthAdjust="spacingAndGlyphs" stroke="#c23444" stroke-width="0.35" >AI</text>
<line x1="275.7" y1="628.8" x2="289" y2="628.8" stroke="#c23444" stroke-width="0.9"/>
<path d="M268.2,625 V631" fill="none" stroke="#c8a060" stroke-width="0.9"/>
<rect x="262.6" y="631.1" width="11.699999999999989" height="23.199999999999932" fill="#eca530" stroke="#a87424" stroke-width="1.2"/>
<path d="M268.2,654.3 V660" fill="none" stroke="#c8a060" stroke-width="0.9"/>
<circle cx="268.2" cy="662.9" r="3.6" fill="#e0a030" stroke="#b07820" stroke-width="1"/>
<text x="256.5" y="675.2" font-family="'Liberation Sans', sans-serif" font-size="11" font-weight="bold" fill="#111" text-anchor="start" textLength="28.7" lengthAdjust="spacingAndGlyphs" >24VG</text>
<text x="320" y="648.5" font-family="'Liberation Sans', sans-serif" font-size="10" font-weight="normal" fill="#333" text-anchor="middle" textLength="39.5" lengthAdjust="spacingAndGlyphs" >PLC , etc.</text>
<text x="320" y="660.4" font-family="'Liberation Sans', sans-serif" font-size="10" font-weight="normal" fill="#333" text-anchor="middle" textLength="65.5" lengthAdjust="spacingAndGlyphs" >Control System</text>
<rect x="253.4" y="704.2" width="101.6" height="108.8" fill="#fff" stroke="#8a7246" stroke-width="2"/>
<path d="M253.4,716.5 H268" fill="none" stroke="#c8a060" stroke-width="0.9"/>
<circle cx="270.8" cy="716.5" r="3.6" fill="#e0a030" stroke="#b07820" stroke-width="1"/>
<text x="279.4" y="720.2" font-family="'Liberation Sans', sans-serif" font-size="11" font-weight="bold" fill="#111" text-anchor="start" textLength="27.6" lengthAdjust="spacingAndGlyphs" >24V+</text>
<path d="M253.4,732.9 H265" fill="none" stroke="#c8a060" stroke-width="0.9"/>
<circle cx="268.2" cy="732.9" r="3.6" fill="#e0a030" stroke="#b07820" stroke-width="1"/>
<text x="275.7" y="738" font-family="'Liberation Sans', sans-serif" font-size="13" font-weight="normal" fill="#c23444" text-anchor="start" textLength="12.9" lengthAdjust="spacingAndGlyphs" stroke="#c23444" stroke-width="0.35" >AI</text>
<line x1="275.7" y1="739.8" x2="289" y2="739.8" stroke="#c23444" stroke-width="0.9"/>
<path d="M268.2,736 V742.5" fill="none" stroke="#c8a060" stroke-width="0.9"/>
<rect x="262.6" y="742.5" width="11.699999999999989" height="23.200000000000045" fill="#eca530" stroke="#a87424" stroke-width="1.2"/>
<path d="M268.2,765.7 V772" fill="none" stroke="#c8a060" stroke-width="0.9"/>
<circle cx="268.2" cy="775.3" r="3.6" fill="#e0a030" stroke="#b07820" stroke-width="1"/>
<path d="M265,775.3 H237.4 V794.8 H265" fill="none" stroke="#c8a060" stroke-width="0.9"/>
<circle cx="268.2" cy="794.8" r="3.6" fill="#e0a030" stroke="#b07820" stroke-width="1"/>
<text x="259.5" y="805.9" font-family="'Liberation Sans', sans-serif" font-size="11" font-weight="bold" fill="#111" text-anchor="start" textLength="28.7" lengthAdjust="spacingAndGlyphs" >24VG</text>
<text x="320" y="761.6" font-family="'Liberation Sans', sans-serif" font-size="10" font-weight="normal" fill="#333" text-anchor="middle" textLength="39.5" lengthAdjust="spacingAndGlyphs" >PLC , etc.</text>
<text x="320" y="772.9" font-family="'Liberation Sans', sans-serif" font-size="10" font-weight="normal" fill="#333" text-anchor="middle" textLength="65.5" lengthAdjust="spacingAndGlyphs" >Control System</text>
<rect x="589.6" y="593" width="101.9" height="91" fill="#fff" stroke="#8a7246" stroke-width="2"/>
<path d="M589.6,599.3 H602" fill="none" stroke="#c8a060" stroke-width="0.9"/>
<circle cx="605.5" cy="599.3" r="3.6" fill="#e0a030" stroke="#b07820" stroke-width="1"/>
<text x="612" y="605" font-family="'Liberation Sans', sans-serif" font-size="13" font-weight="normal" fill="#c23444" text-anchor="start" textLength="12.6" lengthAdjust="spacingAndGlyphs" stroke="#c23444" stroke-width="0.35" >AI</text>
<line x1="612" y1="606.8" x2="625" y2="606.8" stroke="#c23444" stroke-width="0.9"/>
<path d="M605.5,602.5 V609" fill="none" stroke="#c8a060" stroke-width="0.9"/>
<rect x="599.2" y="608.9" width="11.5" height="22.899999999999977" fill="#eca530" stroke="#a87424" stroke-width="1.2"/>
<path d="M605.5,631.8 V636" fill="none" stroke="#c8a060" stroke-width="0.9"/>
<path d="M589.6,639.5 H602" fill="none" stroke="#c8a060" stroke-width="0.9"/>
<circle cx="605.5" cy="639.5" r="3.6" fill="#e0a030" stroke="#b07820" stroke-width="1"/>
<text x="610" y="645.2" font-family="'Liberation Sans', sans-serif" font-size="11" font-weight="bold" fill="#111" text-anchor="start" textLength="28.4" lengthAdjust="spacingAndGlyphs" >24VG</text>
<path d="M584,667.4 H589.6" fill="none" stroke="#c8a060" stroke-width="0.9"/>
<path d="M575.5,661.5 L584,673.3 M584,661.5 L575.5,673.3" stroke="#d82020" stroke-width="1.5"/>
<text x="592.5" y="670" font-family="'Liberation Sans', sans-serif" font-size="11" font-weight="bold" fill="#111" text-anchor="start" textLength="28.3" lengthAdjust="spacingAndGlyphs" >24V+</text>
<text x="655.5" y="616.5" font-family="'Liberation Sans', sans-serif" font-size="10" font-weight="normal" fill="#333" text-anchor="middle" textLength="39.5" lengthAdjust="spacingAndGlyphs" >PLC , etc.</text>
<text x="655.5" y="628.6" font-family="'Liberation Sans', sans-serif" font-size="10" font-weight="normal" fill="#333" text-anchor="middle" textLength="65.5" lengthAdjust="spacingAndGlyphs" >Control System</text>
<rect x="589" y="703.6" width="102.5" height="91.2" fill="#fff" stroke="#8a7246" stroke-width="2"/>
<path d="M589,710 H601.5" fill="none" stroke="#c8a060" stroke-width="0.9"/>
<circle cx="605" cy="710" r="3.6" fill="#e0a030" stroke="#b07820" stroke-width="1"/>
<text x="612" y="715.6" font-family="'Liberation Sans', sans-serif" font-size="13" font-weight="normal" fill="#c23444" text-anchor="start" textLength="12.6" lengthAdjust="spacingAndGlyphs" stroke="#c23444" stroke-width="0.35" >AI</text>
<line x1="612" y1="717.4" x2="625" y2="717.4" stroke="#c23444" stroke-width="0.9"/>
<path d="M605,713 V720" fill="none" stroke="#c8a060" stroke-width="0.9"/>
<rect x="599" y="719.9" width="11.5" height="22.5" fill="#eca530" stroke="#a87424" stroke-width="1.2"/>
<path d="M605,742.4 V747" fill="none" stroke="#c8a060" stroke-width="0.9"/>
<path d="M589,750 H601.5" fill="none" stroke="#c8a060" stroke-width="0.9"/>
<circle cx="605" cy="750" r="3.6" fill="#e0a030" stroke="#b07820" stroke-width="1"/>
<text x="610" y="755.2" font-family="'Liberation Sans', sans-serif" font-size="11" font-weight="bold" fill="#111" text-anchor="start" textLength="28.4" lengthAdjust="spacingAndGlyphs" >24VG</text>
<path d="M584,774.3 H589" fill="none" stroke="#c8a060" stroke-width="0.9"/>
<path d="M584,789.6 H589" fill="none" stroke="#c8a060" stroke-width="0.9"/>
<path d="M575.5,768.6 L584,780 M584,768.6 L575.5,780" stroke="#d82020" stroke-width="1.5"/>
<path d="M575.5,783.9 L584,795.4 M584,783.9 L575.5,795.4" stroke="#d82020" stroke-width="1.5"/>
<text x="592.5" y="776.3" font-family="'Liberation Sans', sans-serif" font-size="11" font-weight="bold" fill="#111" text-anchor="start" textLength="28.3" lengthAdjust="spacingAndGlyphs" >24V+</text>
<text x="592.5" y="792.5" font-family="'Liberation Sans', sans-serif" font-size="11" font-weight="bold" fill="#111" text-anchor="start" textLength="28.4" lengthAdjust="spacingAndGlyphs" >24VG</text>
<text x="655" y="730.4" font-family="'Liberation Sans', sans-serif" font-size="10" font-weight="normal" fill="#333" text-anchor="middle" textLength="39.5" lengthAdjust="spacingAndGlyphs" >PLC , etc.</text>
<text x="655" y="741.3" font-family="'Liberation Sans', sans-serif" font-size="10" font-weight="normal" fill="#333" text-anchor="middle" textLength="65.5" lengthAdjust="spacingAndGlyphs" >Control System</text>
<text transform="translate(30.50,842.3) scale(0.85,1)" y="0" font-family="'Liberation Mono', monospace" font-size="15.6" fill="#3a7298" text-anchor="middle"><tspan x="4.82">N</tspan><tspan x="14.47">o</tspan><tspan x="24.12">t</tspan><tspan x="33.76">e</tspan><tspan x="43.41">:</tspan></text>
<text transform="translate(79.00,842.3) scale(0.85,1)" y="0" font-family="'Liberation Mono', monospace" font-size="15.6" fill="#3a7298" text-anchor="middle"><tspan x="4.82">1</tspan><tspan x="14.47">.</tspan></text>
<text transform="translate(103.50,842.3) scale(0.85,1)" y="0" font-family="'Liberation Mono', monospace" font-size="15.6" fill="#3a7298" text-anchor="middle"><tspan x="4.82">&#8220;</tspan></text>
<text transform="translate(113.00,842.3) scale(0.85,1)" y="0" font-family="'Liberation Mono', monospace" font-size="15.6" fill="#3a7298" text-anchor="middle"><tspan x="4.82">I</tspan><tspan x="14.47">-</tspan><tspan x="24.12">M</tspan><tspan x="33.76">O</tspan><tspan x="43.41">D</tspan><tspan x="53.06">E</tspan></text>
<text transform="translate(166.00,842.3) scale(0.85,1)" y="0" font-family="'Liberation Mono', monospace" font-size="15.6" fill="#3a7298" text-anchor="middle"><tspan x="4.82">&#8221;</tspan></text>
<text transform="translate(179.00,842.3) scale(0.85,1)" y="0" font-family="'Liberation Mono', monospace" font-size="15.6" fill="#3a7298" text-anchor="middle"><tspan x="4.82">I</tspan><tspan x="14.47">s</tspan></text>
<text transform="translate(202.00,842.3) scale(0.85,1)" y="0" font-family="'Liberation Mono', monospace" font-size="15.6" fill="#3a7298" text-anchor="middle"><tspan x="4.82">F</tspan><tspan x="14.47">o</tspan><tspan x="24.12">r</tspan></text>
<text transform="translate(235.80,842.3) scale(0.85,1)" y="0" font-family="'Liberation Mono', monospace" font-size="15.6" fill="#3a7298" text-anchor="middle"><tspan x="4.82">T</tspan><tspan x="14.47">e</tspan><tspan x="24.12">s</tspan><tspan x="33.76">t</tspan><tspan x="43.41">i</tspan><tspan x="53.06">n</tspan><tspan x="62.71">g</tspan></text>
<text transform="translate(300.80,842.3) scale(0.85,1)" y="0" font-family="'Liberation Mono', monospace" font-size="15.6" fill="#3a7298" text-anchor="middle"><tspan x="4.82">O</tspan><tspan x="14.47">n</tspan><tspan x="24.12">l</tspan><tspan x="33.76">y</tspan><tspan x="43.41">,</tspan><tspan x="53.06">I</tspan><tspan x="62.71">t</tspan></text>
<text transform="translate(365.80,842.3) scale(0.85,1)" y="0" font-family="'Liberation Mono', monospace" font-size="15.6" fill="#3a7298" text-anchor="middle"><tspan x="4.82">M</tspan><tspan x="14.47">a</tspan><tspan x="24.12">y</tspan></text>
<text transform="translate(399.30,842.3) scale(0.85,1)" y="0" font-family="'Liberation Mono', monospace" font-size="15.6" fill="#3a7298" text-anchor="middle"><tspan x="4.82">N</tspan><tspan x="14.47">o</tspan><tspan x="24.12">t</tspan></text>
<text transform="translate(431.80,842.3) scale(0.85,1)" y="0" font-family="'Liberation Mono', monospace" font-size="15.6" fill="#3a7298" text-anchor="middle"><tspan x="4.82">A</tspan><tspan x="14.47">p</tspan><tspan x="24.12">p</tspan><tspan x="33.76">e</tspan><tspan x="43.41">a</tspan><tspan x="53.06">r</tspan></text>
<text transform="translate(489.50,842.3) scale(0.85,1)" y="0" font-family="'Liberation Mono', monospace" font-size="15.6" fill="#3a7298" text-anchor="middle"><tspan x="4.82">I</tspan><tspan x="14.47">n</tspan></text>
<text transform="translate(514.90,842.3) scale(0.85,1)" y="0" font-family="'Liberation Mono', monospace" font-size="15.6" fill="#3a7298" text-anchor="middle"><tspan x="4.82">T</tspan><tspan x="14.47">h</tspan><tspan x="24.12">e</tspan></text>
<text transform="translate(546.50,842.3) scale(0.85,1)" y="0" font-family="'Liberation Mono', monospace" font-size="15.6" fill="#3a7298" text-anchor="middle"><tspan x="4.82">N</tspan><tspan x="14.47">e</tspan><tspan x="24.12">w</tspan></text>
<text transform="translate(581.50,842.3) scale(0.85,1)" y="0" font-family="'Liberation Mono', monospace" font-size="15.6" fill="#3a7298" text-anchor="middle"><tspan x="4.82">V</tspan><tspan x="14.47">e</tspan><tspan x="24.12">r</tspan><tspan x="33.76">s</tspan><tspan x="43.41">i</tspan><tspan x="53.06">o</tspan><tspan x="62.71">n</tspan><tspan x="72.35">;</tspan></text>
<text transform="translate(79.50,875) scale(0.85,1)" y="0" font-family="'Liberation Mono', monospace" font-size="15.6" fill="#3a7298" text-anchor="middle"><tspan x="4.82">2</tspan><tspan x="14.47">.</tspan></text>
<text transform="translate(103.00,875) scale(0.85,1)" y="0" font-family="'Liberation Mono', monospace" font-size="15.6" fill="#3a7298" text-anchor="middle"><tspan x="4.82">&#8220;</tspan></text>
<text transform="translate(138.80,875) scale(0.85,1)" y="0" font-family="'Liberation Mono', monospace" font-size="15.6" fill="#3a7298" text-anchor="middle"><tspan x="4.82">&#8221;</tspan></text>
<text transform="translate(153.00,875) scale(0.85,1)" y="0" font-family="'Liberation Mono', monospace" font-size="15.6" fill="#3a7298" text-anchor="middle"><tspan x="4.82">I</tspan><tspan x="14.47">s</tspan></text>
<text transform="translate(176.30,875) scale(0.85,1)" y="0" font-family="'Liberation Mono', monospace" font-size="15.6" fill="#3a7298" text-anchor="middle"><tspan x="4.82">T</tspan><tspan x="14.47">h</tspan><tspan x="24.12">e</tspan></text>
<text transform="translate(209.80,875) scale(0.85,1)" y="0" font-family="'Liberation Mono', monospace" font-size="15.6" fill="#3a7298" text-anchor="middle"><tspan x="4.82">S</tspan><tspan x="14.47">a</tspan><tspan x="24.12">m</tspan><tspan x="33.76">p</tspan><tspan x="43.41">l</tspan><tspan x="53.06">i</tspan><tspan x="62.71">n</tspan><tspan x="72.35">g</tspan></text>
<text transform="translate(284.40,875) scale(0.85,1)" y="0" font-family="'Liberation Mono', monospace" font-size="15.6" fill="#3a7298" text-anchor="middle"><tspan x="4.82">R</tspan><tspan x="14.47">e</tspan><tspan x="24.12">s</tspan><tspan x="33.76">i</tspan><tspan x="43.41">s</tspan><tspan x="53.06">t</tspan><tspan x="62.71">o</tspan><tspan x="72.35">r</tspan></text>
<text transform="translate(357.80,875) scale(0.85,1)" y="0" font-family="'Liberation Mono', monospace" font-size="15.6" fill="#3a7298" text-anchor="middle"><tspan x="4.82">O</tspan><tspan x="14.47">f</tspan></text>
<text transform="translate(386.70,875) scale(0.85,1)" y="0" font-family="'Liberation Mono', monospace" font-size="15.6" fill="#3a7298" text-anchor="middle"><tspan x="4.82">T</tspan><tspan x="14.47">h</tspan><tspan x="24.12">e</tspan></text>
<text transform="translate(416.30,875) scale(0.85,1)" y="0" font-family="'Liberation Mono', monospace" font-size="15.6" fill="#3a7298" text-anchor="middle"><tspan x="4.82">D</tspan><tspan x="14.47">e</tspan><tspan x="24.12">v</tspan><tspan x="33.76">i</tspan><tspan x="43.41">c</tspan><tspan x="53.06">e</tspan><tspan x="62.71">,</tspan></text>
<text transform="translate(480.30,875) scale(0.85,1)" y="0" font-family="'Liberation Mono', monospace" font-size="15.6" fill="#3a7298" text-anchor="middle"><tspan x="4.82">N</tspan><tspan x="14.47">o</tspan><tspan x="24.12">t</tspan></text>
<text transform="translate(513.00,875) scale(0.85,1)" y="0" font-family="'Liberation Mono', monospace" font-size="15.6" fill="#3a7298" text-anchor="middle"><tspan x="4.82">N</tspan><tspan x="14.47">e</tspan><tspan x="24.12">e</tspan><tspan x="33.76">d</tspan></text>
<text transform="translate(553.90,875) scale(0.85,1)" y="0" font-family="'Liberation Mono', monospace" font-size="15.6" fill="#3a7298" text-anchor="middle"><tspan x="4.82">T</tspan><tspan x="14.47">o</tspan></text>
<text transform="translate(579.50,875) scale(0.85,1)" y="0" font-family="'Liberation Mono', monospace" font-size="15.6" fill="#3a7298" text-anchor="middle"><tspan x="4.82">C</tspan><tspan x="14.47">o</tspan><tspan x="24.12">n</tspan><tspan x="33.76">n</tspan><tspan x="43.41">e</tspan><tspan x="53.06">t</tspan></text>
<text transform="translate(638.00,875) scale(0.85,1)" y="0" font-family="'Liberation Mono', monospace" font-size="15.6" fill="#3a7298" text-anchor="middle"><tspan x="4.82">Y</tspan><tspan x="14.47">o</tspan><tspan x="24.12">u</tspan><tspan x="33.76">r</tspan><tspan x="43.41">s</tspan><tspan x="53.06">e</tspan><tspan x="62.71">l</tspan><tspan x="72.35">f</tspan><tspan x="82.00">;</tspan></text>
<circle cx="125.7" cy="848.5" r="3.2" fill="#f0b050" stroke="#c07818" stroke-width="1.4"/>
<line x1="125.7" y1="851.5" x2="125.7" y2="857.8" stroke="#c8a060" stroke-width="0.8"/>
<rect x="120.5" y="857.8" width="11" height="22.9" fill="#eca530" stroke="#a87424" stroke-width="1.3"/>
<line x1="125.7" y1="880.7" x2="125.7" y2="887.3" stroke="#c8a060" stroke-width="0.8"/>
<circle cx="125.7" cy="890.5" r="3.2" fill="#f0b050" stroke="#c07818" stroke-width="1.4"/>
</svg>
</body></html>
